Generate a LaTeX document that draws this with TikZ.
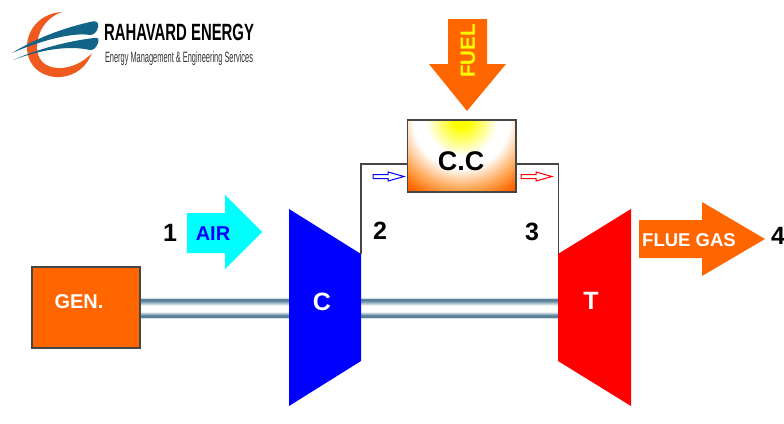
\documentclass[tikz,border=0pt]{standalone}
\usepackage{fontspec}
\setmainfont{Liberation Sans}
\usetikzlibrary{calc}
\definecolor{flame}{RGB}{255,102,0}
\definecolor{gborder}{RGB}{70,70,70}
\definecolor{shaftdark}{RGB}{70,115,140}
\definecolor{logoblue}{RGB}{20,100,135}
\definecolor{logoorange}{RGB}{240,90,30}
\definecolor{aircyan}{RGB}{0,255,255}
\definecolor{pureyellow}{RGB}{255,255,0}
\definecolor{ccwhite}{RGB}{255,255,255}
\definecolor{ccorange}{RGB}{255,170,90}
\definecolor{ccred}{RGB}{250,70,0}
\pgfdeclareradialshading{ccglow}{\pgfpoint{0bp}{0bp}}{
  color(0bp)=(pureyellow);
  color(2bp)=(pureyellow);
  color(9bp)=(ccwhite);
  color(12bp)=(ccwhite);
  color(17bp)=(ccorange);
  color(21bp)=(flame);
  color(25bp)=(ccred);
  color(50bp)=(ccred)
}
\pgfdeclareverticalshading{shaftshade}{100bp}{
  color(0bp)=(shaftdark!25!white);
  color(25bp)=(shaftdark!25!white);
  color(28bp)=(shaftdark);
  color(33bp)=(shaftdark!80!white);
  color(41bp)=(white);
  color(56bp)=(white);
  color(67bp)=(shaftdark!80!white);
  color(72bp)=(shaftdark);
  color(75bp)=(shaftdark!25!white);
  color(100bp)=(shaftdark!25!white)
}
\tikzset{
  blocklabel/.style={font=\bfseries\fontsize{22}{24}\selectfont,text=white,inner sep=0pt},
  statenum/.style={font=\bfseries\fontsize{25}{27}\selectfont,text=black,inner sep=0pt},
  pipe/.style={draw=gborder,line width=1.1pt},
  tinyarrow/.style={line width=1pt,fill=white},
  shaftbar/.style={shading=shaftshade,draw=none}
}
\begin{document}
\begin{tikzpicture}[x=1pt,y=-1pt]
\useasboundingbox (0,0) rectangle (784,423);
\fill[white] (0,0) rectangle (784,423);

% logo
\fill[logoorange] (62,12) .. controls (42,13) and (27,28) .. (27,47)
  .. controls (27,66) and (42,78) .. (60,77)
  .. controls (76,76) and (87,66) .. (92,53)
  .. controls (84,62) and (70,69) .. (57,68)
  .. controls (44,67) and (37,59) .. (37,47)
  .. controls (37,31) and (47,17) .. (62,12) -- cycle;
\fill[logoblue] (12,53) .. controls (30,42) and (55,30) .. (90,22)
  .. controls (96,20) and (99,22) .. (98,27)
  .. controls (97,32) and (94,35) .. (90,35)
  .. controls (72,32) and (40,41) .. (12,53) -- cycle;
\fill[logoblue] (13,60) .. controls (38,49) and (68,41) .. (94,38)
  .. controls (99,37) and (99,40) .. (98,43)
  .. controls (96,48) and (94,50) .. (90,50)
  .. controls (68,45) and (40,50) .. (13,60) -- cycle;
\node[inner sep=0pt,text=black] (brand) at (179,32.5)
  {\resizebox{150pt}{\height}{\bfseries\fontsize{23.5}{25}\selectfont RAHAVARD ENERGY}};
\node[inner sep=0pt,text=black!80] (tagline) at (179,58.5)
  {\resizebox{148pt}{\height}{\fontsize{15}{17}\selectfont Energy Management \& Engineering Services}};

% shafts
\shade[shaftbar] (140,298) rectangle (289,318);
\shade[shaftbar] (361,298) rectangle (558,318);

% generator
\node[draw=gborder,line width=1.1pt,fill=flame,minimum width=108pt,minimum height=81pt,inner sep=0pt] (gen) at (86,307.5) {};
\node[blocklabel,font=\bfseries\fontsize{20}{22}\selectfont] (genlabel) at (79,302) {GEN.};

% compressor and turbine
\fill[blue] (289,209) -- (361,254) -- (361,361) -- (289,406) -- cycle;
\fill[red] (558,254) -- (631,209) -- (631,406) -- (558,361) -- cycle;
\node[blocklabel,font=\bfseries\fontsize{25}{27}\selectfont] (comp) at (322,302) {C};
\node[blocklabel,font=\bfseries\fontsize{25}{27}\selectfont] (turb) at (591,301) {T};

% combustion chamber
\coordinate (ccnw) at (407.5,120);
\coordinate (ccse) at (516,192);
\begin{scope}
\clip (ccnw) rectangle (ccse);
\shade[shading=ccglow] (461.5,120) circle (100);
\end{scope}
\node[draw=gborder,line width=1.1pt,minimum width=108.5pt,minimum height=72pt,inner sep=0pt] (cc) at (461.75,156) {};
\node[font=\bfseries\fontsize{27}{29}\selectfont,inner sep=0pt] (cclabel) at (461,161) {C.C};

% ducts
\coordinate (cin) at (361,254);
\coordinate (tin) at (558.5,254);
\draw[pipe] (cin) |- (cc.west |- 0,164);
\draw[pipe] (cc.east |- 0,164) -| (tin);

% flow arrows
\draw[tinyarrow,draw=blue] (373,174.5) -- (388,174.5) -- (388,172) -- (404,176.5) -- (388,181) -- (388,178.5) -- (373,178.5) -- cycle;
\draw[tinyarrow,draw=red] (521,174.5) -- (536,174.5) -- (536,172) -- (552,176.5) -- (536,181) -- (536,178.5) -- (521,178.5) -- cycle;

% big arrows
\fill[flame] (448,19) -- (487,19) -- (487,64) -- (506,64) -- (467,111) -- (429,64) -- (448,64) -- cycle;
\node[rotate=90,text=pureyellow,inner sep=0pt,font=\bfseries\fontsize{20.5}{23}\selectfont] (fuel) at (468,51) {FUEL};
\fill[aircyan] (187,213) -- (225,213) -- (225,195) -- (262,232) -- (225,269) -- (225,253) -- (187,253) -- cycle;
\node[text=blue,inner sep=0pt,font=\bfseries\fontsize{20}{22}\selectfont] (air) at (213,234) {AIR};
\fill[flame] (639,220) -- (702,220) -- (702,202) -- (765,239) -- (702,276) -- (702,258) -- (639,258) -- cycle;
\node[text=white,inner sep=0pt,font=\bfseries\fontsize{18.5}{20}\selectfont] (flue) at (689,240) {FLUE GAS};

% state numbers
\node[statenum] (s1) at (170,233) {1};
\node[statenum] (s2) at (380,231) {2};
\node[statenum] (s3) at (532,232) {3};
\node[statenum] (s4) at (778,236) {4};
\end{tikzpicture}
\end{document}
